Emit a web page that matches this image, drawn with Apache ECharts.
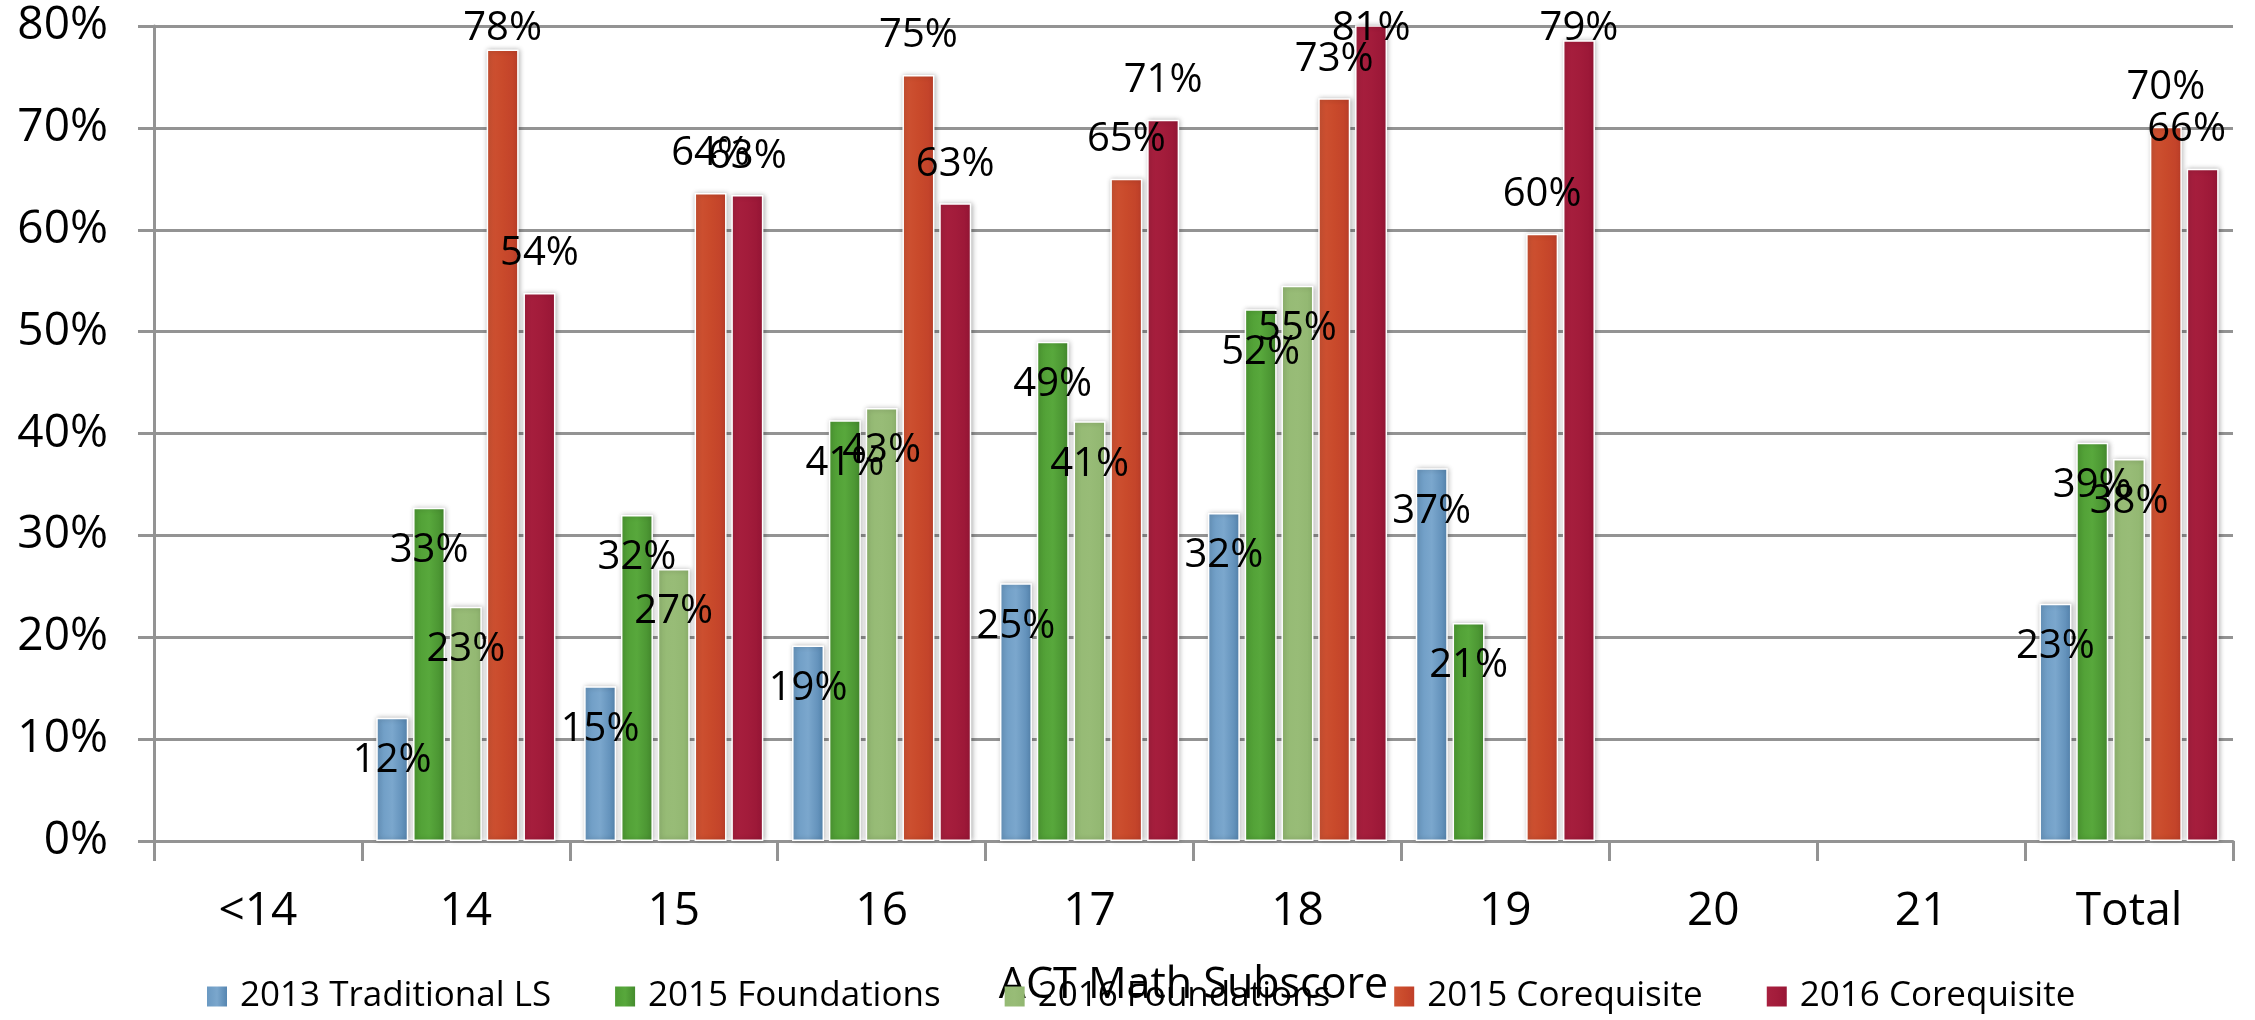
<!DOCTYPE html>
<html>
<head>
<meta charset="utf-8">
<script src="https://cdn.jsdelivr.net/npm/echarts@6/dist/echarts.min.js"></script>
<style>
html,body{margin:0;padding:0;background:#fff;}
#c{width:2255px;height:1020px;}
</style>
</head>
<body>
<div id="c"></div>
<script>
var categories = ['<14', '14', '15', '16', '17', '18', '19', '20', '21', 'Total'];
var seriesNames = ['2013 Traditional LS', '2015 Foundations', '2016 Foundations', '2015 Corequisite', '2016 Corequisite'];
var trad2013 = [null, 0.121, 0.152, 0.192, 0.253, 0.322, 0.366, null, null, 0.233];
var found2015 = [null, 0.327, 0.320, 0.413, 0.490, 0.522, 0.214, null, null, 0.391];
var found2016 = [null, 0.230, 0.267, 0.425, 0.412, 0.545, null, null, null, 0.375];
var coreq2015 = [null, 0.777, 0.636, 0.752, 0.650, 0.729, 0.596, null, null, 0.701];
var coreq2016 = [null, 0.538, 0.634, 0.626, 0.708, 0.810, 0.786, null, null, 0.660];
var yTicks = [0, 0.1, 0.2, 0.3, 0.4, 0.5, 0.6, 0.7, 0.8];

var FONT = '"Open Sans", "Noto Sans", sans-serif';
function grad(c1, c2, c3) {
  return new echarts.graphic.LinearGradient(0, 0, 1, 0, [
    {offset: 0, color: c1}, {offset: 0.5, color: c2}, {offset: 1, color: c3}
  ]);
}
var fills = [
  grad('#6A99C2', '#7BA7CD', '#5686B1'),
  grad('#4E9C33', '#58A83C', '#458C2E'),
  grad('#95BA74', '#98BC77', '#91B670'),
  grad('#CF5434', '#C94A2B', '#C0402A'),
  grad('#A8203F', '#A31C3B', '#981636')
];
var solid = ['#6796BF', '#4F9C35', '#95BA74', '#C94A2B', '#A41C3C'];
var dataSets = [trad2013, found2015, found2016, coreq2015, coreq2016];
var above = [false, false, false, true, true];

var series = dataSets.map(function (d, i) {
  return {
    name: seriesNames[i],
    type: 'bar',
    data: d,
    barWidth: 32,
    barGap: '15%',
    clip: true,
    itemStyle: {
      color: fills[i],
      borderColor: '#ffffff',
      borderWidth: 1.5,
      shadowBlur: 5,
      shadowColor: 'rgba(0,0,0,0.28)',
      shadowOffsetX: 1
    },
    label: {
      show: true,
      position: above[i] ? ['50%', -39] : ['50%', 43],
      align: 'center',
      verticalAlign: 'middle',
      color: '#000',
      fontFamily: FONT,
      fontSize: 40,
      formatter: function (p) { return Math.round(p.value * 100) + '%'; }
    },
    labelLayout: function (p) {
      var minTop = 9, maxRight = 2226;
      var out = {};
      if (p.labelRect) {
        if (p.labelRect.y < minTop) out.dy = minTop - p.labelRect.y;
        if (p.labelRect.x + p.labelRect.width > maxRight) out.dx = maxRight - (p.labelRect.x + p.labelRect.width);
      }
      return out;
    }
  };
});

var option = {
  backgroundColor: '#ffffff',
  animation: false,
  color: solid,
  grid: {left: 154, right: 22, top: 26, bottom: 179, containLabel: false},
  legend: {
    data: seriesNames,
    left: 202,
    top: 974,
    itemGap: 64,
    itemWidth: 20,
    itemHeight: 20,
    icon: 'rect',
    itemStyle: {borderWidth: 0, shadowBlur: 0},
    textStyle: {fontFamily: FONT, fontSize: 35, color: '#000', padding: [0, 0, 0, 8]}
  },
  xAxis: {
    type: 'category',
    data: categories,
    name: 'ACT Math Subscore',
    nameLocation: 'middle',
    nameGap: 123,
    nameTextStyle: {fontFamily: FONT, fontSize: 43, color: '#000'},
    axisLine: {show: true, lineStyle: {color: '#939393', width: 3}},
    axisTick: {show: true, length: 20, lineStyle: {color: '#939393', width: 3}},
    axisLabel: {fontFamily: FONT, fontSize: 46, color: '#000', margin: 48},
    splitLine: {show: false}
  },
  yAxis: {
    type: 'value',
    min: yTicks[0],
    max: yTicks[yTicks.length - 1],
    interval: 0.1,
    axisLine: {show: true, lineStyle: {color: '#939393', width: 3}},
    axisTick: {show: true, length: 16, lineStyle: {color: '#939393', width: 3}},
    axisLabel: {
      fontFamily: FONT, fontSize: 46, color: '#000', margin: 46,
      formatter: function (v) { return Math.round(v * 100) + '%'; }
    },
    splitLine: {show: true, lineStyle: {color: '#939393', width: 3}}
  },
  series: series
};

var chart = echarts.init(document.getElementById('c'), null, {renderer: 'canvas'});
chart.setOption(option);
</script>
</body>
</html>
